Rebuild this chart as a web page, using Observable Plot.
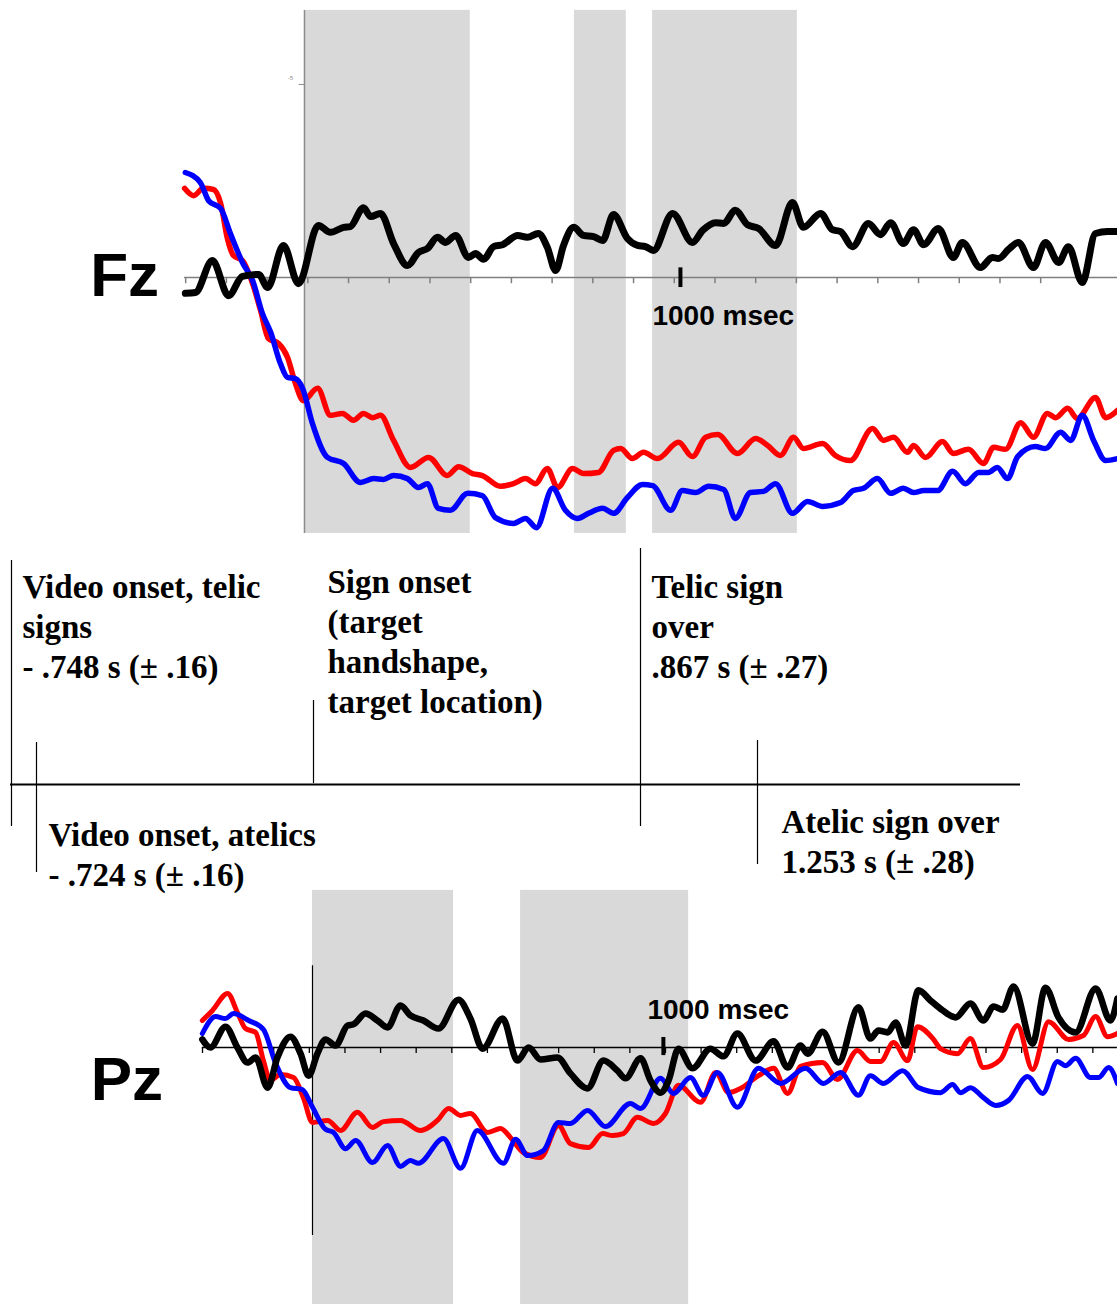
<!DOCTYPE html>
<html><head><meta charset="utf-8">
<script src="https://cdn.jsdelivr.net/npm/d3@7"></script>
<script src="https://cdn.jsdelivr.net/npm/@observablehq/plot@0.6"></script>
<style>
body{margin:0;background:#fff;}
#root{position:relative;width:1117px;height:1304px;overflow:hidden;background:#fff;}
#root > svg{position:absolute;left:0;}
</style></head><body><div id="root"></div>
<script>
// ---------- DATA (time in ms, amplitude in µV, negative plotted up) ----------
const fzBlack = [[-317,0.41],[-290,0.39],[-245,-0.44],[-202,0.47],[-165,-0.03],[-122,-0.08],[-98,0.26],[-56,-0.83],[-16,0.16],[37,-1.35],[69,-1.17],[104,-1.30],[122,-1.32],[157,-1.81],[176,-1.58],[202,-1.66],[237,-0.88],[274,-0.31],[303,-0.65],[327,-0.75],[354,-1.04],[375,-0.91],[402,-1.09],[436,-0.52],[455,-0.62],[476,-0.47],[503,-0.80],[527,-0.85],[567,-1.09],[593,-1.04],[622,-1.14],[646,-0.78],[668,-0.18],[689,-0.83],[716,-1.30],[742,-1.09],[769,-1.06],[793,-0.96],[822,-1.63],[859,-1.01],[886,-0.83],[907,-0.80],[928,-0.70],[979,-1.66],[1032,-0.91],[1059,-1.22],[1093,-1.42],[1115,-1.40],[1146,-1.74],[1178,-1.37],[1208,-1.27],[1253,-0.83],[1298,-1.94],[1327,-1.30],[1373,-1.66],[1404,-1.24],[1426,-1.19],[1458,-0.80],[1500,-1.40],[1532,-1.11],[1559,-1.42],[1593,-0.88],[1620,-1.24],[1647,-0.85],[1686,-1.27],[1726,-0.52],[1750,-0.91],[1798,-0.26],[1830,-0.52],[1846,-0.49],[1873,-0.73],[1899,-0.91],[1939,-0.26],[1971,-0.91],[2006,-0.39],[2032,-0.80],[2069,0.13],[2104,-1.14],[2136,-1.19],[2163,-1.19]];
const fzRed = [[-319,-2.31],[-295,-2.12],[-269,-2.31],[-242,-2.28],[-223,-1.92],[-205,-1.01],[-189,-0.57],[-165,-0.44],[-138,0.16],[-117,0.85],[-96,1.58],[-69,1.71],[-45,2.07],[-24,2.75],[-3,3.19],[35,2.87],[69,3.57],[101,3.52],[130,3.70],[157,3.52],[181,3.63],[202,3.57],[237,4.22],[282,4.92],[330,4.66],[380,5.13],[410,4.90],[447,5.08],[473,5.13],[521,5.41],[556,5.34],[588,5.21],[614,5.34],[646,4.95],[673,5.44],[713,4.95],[742,5.08],[782,5.05],[822,4.48],[841,4.43],[872,4.69],[902,4.53],[939,4.69],[995,4.27],[1032,4.64],[1067,4.14],[1099,4.07],[1152,4.56],[1200,4.17],[1232,4.35],[1266,4.61],[1301,4.14],[1327,4.43],[1378,4.30],[1412,4.61],[1452,4.74],[1511,3.91],[1540,4.22],[1567,4.14],[1604,4.53],[1620,4.35],[1652,4.66],[1697,4.25],[1726,4.56],[1766,4.45],[1806,4.82],[1833,4.40],[1865,4.45],[1905,3.76],[1939,4.14],[1976,3.52],[1998,3.63],[2030,3.39],[2056,3.65],[2104,3.11],[2131,3.63],[2163,3.44]];
const fzBlue = [[-317,-2.72],[-277,-2.46],[-255,-1.99],[-223,-1.79],[-197,-1.14],[-165,-0.39],[-138,0.08],[-112,0.93],[-90,1.42],[-64,2.23],[-45,2.59],[-24,2.62],[-5,2.87],[21,3.78],[61,4.66],[104,4.82],[149,5.31],[184,5.21],[210,5.23],[237,5.13],[274,5.21],[303,5.44],[327,5.34],[356,5.98],[388,6.03],[434,5.59],[473,5.65],[508,6.22],[556,6.37],[588,6.24],[617,6.48],[660,5.46],[694,6.03],[726,6.24],[755,6.11],[793,5.98],[822,6.11],[859,5.70],[899,5.36],[926,5.39],[974,6.03],[1005,5.52],[1040,5.57],[1075,5.41],[1115,5.49],[1146,6.24],[1186,5.57],[1221,5.54],[1253,5.34],[1298,6.11],[1338,5.80],[1378,5.93],[1426,5.83],[1460,5.52],[1487,5.46],[1524,5.21],[1559,5.59],[1593,5.46],[1620,5.57],[1647,5.52],[1684,5.52],[1724,5.02],[1758,5.34],[1793,5.05],[1819,5.05],[1843,4.92],[1870,5.21],[1897,4.64],[1944,4.38],[1971,4.43],[2011,4.01],[2038,4.22],[2069,3.57],[2099,4.22],[2131,4.74],[2163,4.69]];

const pzBlack = [[-314,-0.21],[-291,0],[-248,-0.54],[-214,0],[-185,0.39],[-162,0.26],[-128,1.04],[-100,0.26],[-63,-0.28],[-34,0.16],[-11,0.73],[14,0.16],[37,-0.21],[66,-0.05],[100,-0.57],[117,-0.60],[151,-0.88],[185,-0.70],[214,-0.52],[251,-1.09],[279,-0.83],[316,-0.70],[359,-0.49],[416,-1.24],[450,-0.75],[485,0.03],[542,-0.75],[584,0.34],[616,0],[650,0.31],[698,0.26],[735,0.67],[784,1.06],[829,0.34],[869,0.60],[892,0.80],[935,0.28],[963,0.85],[992,1.17],[1015,0.85],[1043,0.03],[1083,0.54],[1134,0.03],[1171,0.23],[1211,-0.36],[1263,0.34],[1314,-0.16],[1354,0.52],[1391,-0.05],[1411,0.16],[1454,-0.41],[1499,0.39],[1556,-1.04],[1590,-0.23],[1613,-0.44],[1639,-0.39],[1662,-0.65],[1690,-0.05],[1727,-1.48],[1761,-1.22],[1796,-0.96],[1833,-0.78],[1875,-1.14],[1912,-0.70],[1941,-1.06],[1967,-0.98],[1998,-1.58],[2052,-0.10],[2089,-1.55],[2126,-0.78],[2175,-0.39],[2232,-1.53],[2274,-0.70],[2294,-1.27]];
const pzRed = [[-314,-0.70],[-285,-0.96],[-242,-1.40],[-214,-0.91],[-191,-0.49],[-162,-0.39],[-140,0.34],[-120,0.85],[-91,0.70],[-54,0.78],[-26,1.30],[0,1.94],[43,1.89],[80,2.15],[128,1.68],[171,2.07],[202,1.92],[251,1.89],[308,2.15],[356,1.89],[388,1.58],[422,1.76],[450,1.71],[499,2.20],[536,2.10],[564,2.33],[601,2.72],[650,2.85],[701,2.02],[735,2.49],[787,2.59],[827,2.23],[855,2.28],[886,2.23],[926,1.81],[972,1.97],[1006,1.71],[1043,0.98],[1106,1.42],[1149,0.65],[1186,1.17],[1220,1.06],[1271,0.73],[1314,0.54],[1354,1.19],[1391,0.49],[1454,0.39],[1496,0.83],[1553,0.08],[1590,0.36],[1619,0.36],[1656,-0.13],[1696,0.34],[1724,-0.54],[1770,-0.21],[1790,0.03],[1838,0.16],[1875,-0.23],[1912,0.52],[1961,0.31],[2009,-0.57],[2052,0.57],[2098,-0.67],[2155,-0.21],[2197,-0.31],[2232,-0.80],[2266,-0.28],[2294,-0.36]];
const pzBlue = [[-314,-0.36],[-276,-0.80],[-248,-0.75],[-225,-0.88],[-182,-0.70],[-140,-0.47],[-105,0.41],[-63,1.04],[-29,1.09],[0,1.55],[37,2.12],[60,2.20],[94,2.62],[123,2.41],[171,2.98],[214,2.54],[251,3.08],[279,2.93],[302,3.00],[373,2.36],[422,3.13],[470,2.15],[544,3.00],[579,2.38],[613,2.80],[658,2.67],[701,1.94],[735,1.97],[784,1.63],[835,2.05],[906,1.45],[935,1.58],[992,0.80],[1029,1.19],[1077,0.78],[1114,1.24],[1154,0.65],[1211,1.55],[1271,0.54],[1334,0.93],[1405,0.54],[1456,0.93],[1505,0.65],[1556,1.24],[1590,0.73],[1627,0.93],[1682,0.60],[1727,1.04],[1790,1.17],[1824,0.96],[1847,1.17],[1875,1.04],[1912,1.30],[1947,1.50],[1984,1.37],[2038,0.75],[2081,1.19],[2123,0.36],[2146,0.47],[2175,0.28],[2217,0.78],[2240,0.78],[2269,0.52],[2294,0.93]];

// shaded analysis windows (ms)
const fzWindows = [[0, 441], [718, 856], [926, 1311]];
const pzWindows = [[0, 402], [593, 1072]];

// timeline events (s)
const eventTimes = [-0.748, -0.724, 0, 0.867, 1.253];
const eventLabels = [
  "Video onset, telic\nsigns\n- .748 s (± .16)",
  "Video onset, atelics\n- .724 s (± .16)",
  "Sign onset\n(target\nhandshape,\ntarget location)",
  "Telic sign\nover\n.867 s (± .27)",
  "Atelic sign over\n1.253 s (± .28)"
];
const scaleBarLabel = "1000 msec";
const scaleBarValue = 1000;
const channelNames = ["Fz", "Pz"];

// ---------- LAYOUT ----------
const W = 1117;
const serif = "'Liberation Serif','Times New Roman',serif";
const sans = "'Liberation Sans',Arial,sans-serif";
const root = document.getElementById("root");

function waves(black, red, blue, wb, wc) {
  const common = {x: d => d[0], y: d => d[1], curve: "monotone-x", strokeLinejoin: "round", strokeLinecap: "round"};
  return [
    Plot.line(red, {...common, stroke: "#ff0000", strokeWidth: wc}),
    Plot.line(blue, {...common, stroke: "#0000ff", strokeWidth: wc}),
    Plot.line(black, {...common, stroke: "#000000", strokeWidth: wb})
  ];
}

// Fz panel
const fz = Plot.plot({
  width: W, height: 540, margin: 0,
  x: {domain: [-808.6, 2162.6], axis: null},
  y: {domain: [-7.176, 6.813], reverse: true, axis: null},
  style: {background: "transparent", overflow: "visible"},
  marks: [
    Plot.rect(fzWindows, {x1: d => d[0], x2: d => d[1], y1: -6.92, y2: 6.63, fill: "#d9d9d9"}),
    Plot.ruleY([0], {x1: -319, x2: 2163, stroke: "#7f7f7f", strokeWidth: 1.5}),
    Plot.ruleX(d3.range(-316, 2170, 108.3), {y1: 0, y2: 0.16, stroke: "#7f7f7f", strokeWidth: 1.5}),
    Plot.ruleX([0], {y1: -6.92, y2: 6.63, stroke: "#8c8c8c", strokeWidth: 1.5}),
    Plot.ruleY([-5], {x1: -14, x2: 0, stroke: "#8c8c8c", strokeWidth: 1}),
    Plot.text(["-5"], {x: -37, y: -5, dy: -6, fontSize: 6, fill: "#888"}),
    ...waves(fzBlack, fzRed, fzBlue, 7, 5.5),
    Plot.ruleX([scaleBarValue], {y1: -0.25, y2: 0.26, stroke: "#000", strokeWidth: 4}),
    Plot.text([scaleBarLabel], {x: scaleBarValue, y: 1.24, dx: -28, textAnchor: "start", lineAnchor: "bottom", fontSize: 28, fontWeight: "bold", fontFamily: sans, fill: "#000"}),
    Plot.text([channelNames[0]], {x: -570, y: 0.47, textAnchor: "start", lineAnchor: "bottom", fontSize: 62, fontWeight: "bold", fontFamily: sans, fill: "#000"})
  ]
});
fz.style.top = "0px";
root.appendChild(fz);

// timeline diagram
const lineLayout = [
  {y1: 560, y2: 826, dx: 11, ty: 677},
  {y1: 742, y2: 872, dx: 12, ty: 885},
  {y1: 700, y2: 783, dx: 14, ty: 712},
  {y1: 548, y2: 826, dx: 11, ty: 677},
  {y1: 740, y2: 864, dx: 24, ty: 872}
];
const events = eventTimes.map((t, i) => ({time: t, label: eventLabels[i], ...lineLayout[i]}));
const tl = Plot.plot({
  width: W, height: 360, marginLeft: 10, marginRight: 97, marginTop: 0, marginBottom: 0,
  x: {type: "linear", domain: eventTimes, range: [11, 36, 313, 640, 757], axis: null},
  y: {domain: [540, 900], range: [0, 360], axis: null},
  style: {background: "transparent", overflow: "visible"},
  marks: [
    Plot.ruleY([784], {stroke: "#000", strokeWidth: 2}),
    Plot.ruleX(events, {x: "time", y1: "y1", y2: "y2", stroke: "#000", strokeWidth: 1.2}),
    ...events.map(e => Plot.text([e], {x: "time", y: "ty", text: "label", dx: e.dx, textAnchor: "start", lineAnchor: "bottom", lineHeight: 40 / 33, fontSize: 33, fontWeight: "bold", fontFamily: serif, fill: "#000"}))
  ]
});
tl.style.top = "540px";
root.appendChild(tl);

// Pz panel
const pz = Plot.plot({
  width: W, height: 424, margin: 0,
  x: {domain: [-889.2, 2294.25], axis: null},
  y: {domain: [-4.326, 6.658], reverse: true, axis: null},
  style: {background: "transparent", overflow: "visible"},
  marks: [
    Plot.rect(pzWindows, {x1: d => d[0], x2: d => d[1], y1: -4.07, y2: 6.66, fill: "#d9d9d9"}),
    Plot.ruleY([0], {x1: -314, x2: 2294, stroke: "#000", strokeWidth: 1.5}),
    Plot.ruleX(d3.range(-313.5, 2290, 101.5), {y1: 0, y2: 0.155, stroke: "#000", strokeWidth: 1.3}),
    Plot.ruleX([0], {y1: -2.12, y2: 4.87, stroke: "#000", strokeWidth: 1.2}),
    ...waves(pzBlack, pzRed, pzBlue, 6.5, 5),
    Plot.ruleX([scaleBarValue], {y1: -0.26, y2: 0.21, stroke: "#000", strokeWidth: 4}),
    Plot.text([scaleBarLabel], {x: scaleBarValue, y: -0.75, dx: -16, textAnchor: "start", lineAnchor: "bottom", fontSize: 28, fontWeight: "bold", fontFamily: sans, fill: "#000"}),
    Plot.text([channelNames[1]], {x: -632, y: 1.37, textAnchor: "start", lineAnchor: "bottom", fontSize: 62, fontWeight: "bold", fontFamily: sans, fill: "#000"})
  ]
});
pz.style.top = "880px";
root.appendChild(pz);
</script>
</body></html>
